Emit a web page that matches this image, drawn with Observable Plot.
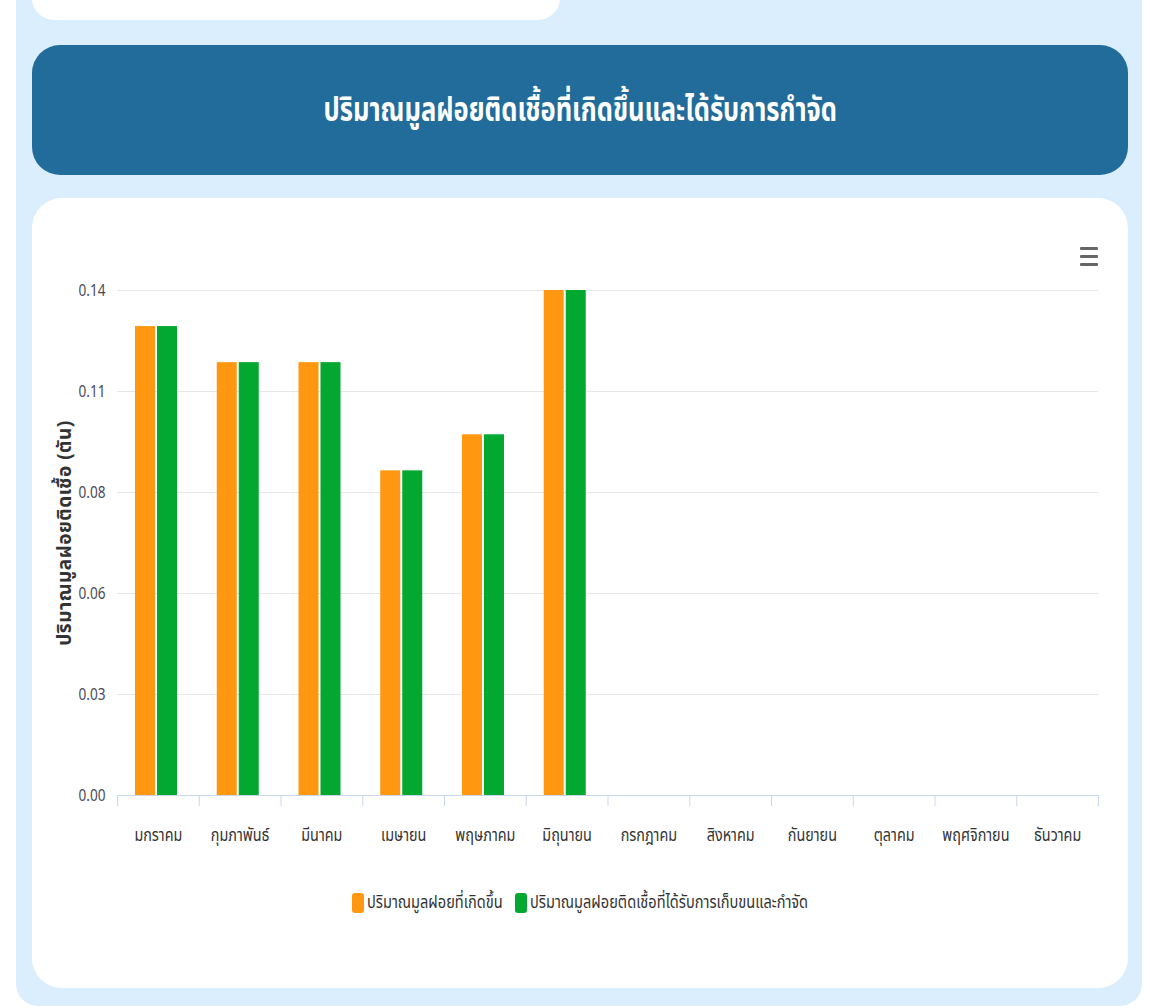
<!DOCTYPE html>
<html><head><meta charset="utf-8">
<script src="https://cdn.jsdelivr.net/npm/d3@7"></script>
<script src="https://cdn.jsdelivr.net/npm/@observablehq/plot@0.6"></script>
<style>
html,body{margin:0;padding:0;background:#fff;width:1150px;height:1008px;overflow:hidden;font-family:"Noto Sans Thai","Noto Sans",sans-serif;}
#panel{position:absolute;left:16px;top:-30px;width:1126px;height:1036px;background:#dbeefd;border-radius:22px;}
#topcard{position:absolute;left:32px;top:-40px;width:528px;height:60px;background:#fff;border-radius:22px;}
#banner{position:absolute;left:32px;top:45px;width:1096px;height:130px;background:#216c9a;border-radius:28px;color:#fff;display:flex;align-items:center;justify-content:center;}
#title{display:inline-block;font-size:34px;font-weight:bold;transform:scaleX(0.75);white-space:nowrap;}
#card{position:absolute;left:32px;top:198px;width:1096px;height:790px;background:#fff;border-radius:30px;}
#chart{position:absolute;left:0;top:270px;}
.bar{position:absolute;left:1080px;width:18px;height:3px;background:#666;border-radius:1px;}
#legend{position:absolute;left:32px;width:1096px;top:889px;display:flex;justify-content:center;align-items:center;gap:12px;font-size:18px;color:#333;}
.item{display:flex;align-items:center;gap:3px;}
.sw{width:12px;height:20px;border-radius:3px;display:inline-block;}
.lt{display:inline-block;transform-origin:0 50%;white-space:nowrap;}
</style>
</head><body>
<div id="panel"></div>
<div id="topcard"></div>
<div id="banner"><span id="title"></span></div>
<div id="card"></div>
<div class="bar" style="top:247px"></div>
<div class="bar" style="top:255px"></div>
<div class="bar" style="top:263px"></div>
<div id="chart"></div>
<div id="legend"></div>
<script>
const title = "ปริมาณมูลฝอยติดเชื้อที่เกิดขึ้นและได้รับการกำจัด";
const yLabel = "ปริมาณมูลฝอยติดเชื้อ (ตัน)";
const months = ["มกราคม","กุมภาพันธ์","มีนาคม","เมษายน","พฤษภาคม","มิถุนายน","กรกฎาคม","สิงหาคม","กันยายน","ตุลาคม","พฤศจิกายน","ธันวาคม"];
const seriesNames = ["ปริมาณมูลฝอยที่เกิดขึ้น","ปริมาณมูลฝอยติดเชื้อที่ได้รับการเก็บขนและกำจัด"];
const generated = [0.13, 0.12, 0.12, 0.09, 0.10, 0.14, 0, 0, 0, 0, 0, 0];
const disposed  = [0.13, 0.12, 0.12, 0.09, 0.10, 0.14, 0, 0, 0, 0, 0, 0];
const yTicks = [0, 0.028, 0.056, 0.084, 0.112, 0.14];
const colors = ["#ff9810", "#02a830"];

document.getElementById("title").textContent = title;

const W = 1150, H = 585, mL = 117, mR = 52, mT = 20, mB = 60;
const bw = (W - mL - mR) / months.length;
const rowsA = months.map((m, i) => ({month: m, value: generated[i]}));
const rowsB = months.map((m, i) => ({month: m, value: disposed[i]}));
const fmt = d => d.toFixed(2);

const chart = Plot.plot({
  width: W, height: H,
  marginLeft: mL, marginRight: mR, marginTop: mT, marginBottom: mB,
  style: {fontFamily: '"Noto Sans Thai","Noto Sans",sans-serif', background: "transparent", overflow: "visible"},
  x: {domain: months, padding: 0, round: false},
  y: {domain: [0, 0.14]},
  marks: [
    Plot.gridY(yTicks, {stroke: "#e6e6e6", strokeOpacity: 1, strokeWidth: 1}),
    Plot.barY(rowsA, {x: "month", y: "value", fill: colors[0], insetLeft: 18, insetRight: bw - 38}),
    Plot.barY(rowsB, {x: "month", y: "value", fill: colors[1], insetLeft: 40, insetRight: bw - 60}),
    Plot.ruleY([0], {stroke: "#ccd6eb", strokeWidth: 1}),
    Plot.ruleX(months, {x: d => d, y1: 0, y2: 0, insetBottom: -11, dx: -bw / 2, stroke: "#ccd6eb"}),
    Plot.ruleX(months.slice(-1), {x: d => d, y1: 0, y2: 0, insetBottom: -11, dx: bw / 2, stroke: "#ccd6eb"}),
    Plot.axisX({tickSize: 0, tickPadding: 33, fontSize: 18, color: "#333", label: null}),
    Plot.axisY({ticks: yTicks, tickSize: 0, tickPadding: 12, fontSize: 16, color: "#4a4a55",
      tickFormat: fmt, label: yLabel, labelAnchor: "center", labelOffset: 60, labelArrow: "none"})
  ]
});
document.getElementById("chart").appendChild(chart);
const tickStrings = yTicks.map(fmt);
chart.querySelectorAll("text").forEach(t => {
  const s = t.textContent;
  if (s === yLabel) {
    t.setAttribute("font-weight", "bold"); t.setAttribute("fill", "#333"); t.setAttribute("font-size", "19");
    t.setAttribute("letter-spacing", "0.5"); t.setAttribute("dx", "10");
    return;
  }
  let k = null;
  if (months.includes(s)) k = 0.8;
  else if (tickStrings.includes(s)) k = 0.85;
  if (k == null) return;
  const tr = t.getAttribute("transform");
  if (tr) t.setAttribute("transform", tr + ` scale(${k},1)`);
  else {
    const x = t.getAttribute("x") || 0, y = t.getAttribute("y") || 0;
    t.removeAttribute("x"); t.removeAttribute("y");
    t.setAttribute("transform", `translate(${x},${y}) scale(${k},1)`);
  }
});

const legend = document.getElementById("legend");
seriesNames.forEach((n, i) => {
  const it = document.createElement("div"); it.className = "item";
  const sw = document.createElement("span"); sw.className = "sw"; sw.style.background = colors[i];
  const tx = document.createElement("span"); tx.className = "lt"; tx.textContent = n;
  it.appendChild(sw); it.appendChild(tx); legend.appendChild(it);
  const w = tx.getBoundingClientRect().width, k = 0.81;
  tx.style.transform = `scaleX(${k})`;
  tx.style.marginRight = `${-w * (1 - k)}px`;
});
</script>
</body></html>
